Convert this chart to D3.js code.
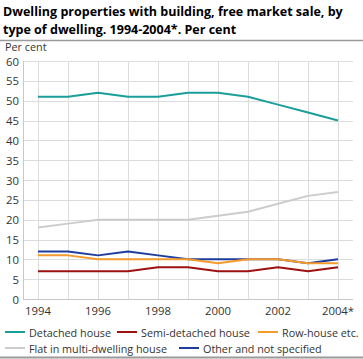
<!DOCTYPE html>
<html><head><meta charset="utf-8">
<script src="https://cdn.jsdelivr.net/npm/d3@7"></script>
<style>
body{margin:0;background:#fff;}
svg{display:block;font-family:"Open Sans",sans-serif;}
</style></head>
<body><svg id="c" width="363" height="359"></svg>
<script>
const years = ["1994","1995","1996","1997","1998","1999","2000","2001","2002","2003","2004"];
const tickLabels = ["1994","1996","1998","2000","2002","2004*"];
const yTicks = [0,5,10,15,20,25,30,35,40,45,50,55,60];
const detached = [51,51,52,51,51,52,52,51,49,47,45];
const semiDetached = [7,7,7,7,8,8,7,7,8,7,8];
const rowHouse = [11,11,10,10,10,10,9,10,10,9,9];
const flat = [18,19,20,20,20,20,21,22,24,26,27];
const other = [12,12,11,12,11,10,10,10,10,9,10];
const seriesNames = ["Detached house","Semi-detached house","Row-house etc.","Flat in multi-dwelling house","Other and not specified"];
const colors = ["#1a9e99","#9e1111","#f59a2c","#cccccc","#1c3d9c"];

const series = [
  {name:seriesNames[0], values:detached, color:colors[0]},
  {name:seriesNames[1], values:semiDetached, color:colors[1]},
  {name:seriesNames[2], values:rowHouse, color:colors[2]},
  {name:seriesNames[3], values:flat, color:colors[3]},
  {name:seriesNames[4], values:other, color:colors[4]}
];
const drawOrder = [3,0,1,4,2];

const svg = d3.select("#c");
const L=23,R=353,T=61,B=299;
const x = d3.scalePoint().domain(years).range([L,R]).padding(0.5);
const y = d3.scaleLinear().domain([0,60]).range([B,T]);

// fit font sizes to measured target widths
function fitSize(text, weight, target){
  const t = svg.append("text").attr("font-size",20).attr("font-weight",weight).text(text);
  const w = t.node().getComputedTextLength();
  t.remove();
  return 20*target/w;
}
const titleSize = fitSize("Dwelling properties with building, free market sale, by","bold",340);
const smallSize = fitSize("Semi-detached house","normal",109);

// title
const title = svg.append("text").attr("font-weight","bold").attr("font-size",titleSize).attr("fill","#000");
title.append("tspan").attr("x",3).attr("y",16).text("Dwelling properties with building, free market sale, by");
title.append("tspan").attr("x",3).attr("y",34).text("type of dwelling. 1994-2004*. Per cent");
svg.append("line").attr("x1",0).attr("x2",363).attr("y1",40.5).attr("y2",40.5).attr("stroke","#9a9a9a").attr("stroke-width",1.5);
svg.append("text").attr("x",5).attr("y",51).attr("font-size",smallSize).attr("fill","#333").text("Per cent");

// grid
const grid = svg.append("g");
grid.selectAll("line.h").data(yTicks).join("line")
  .attr("x1",L).attr("x2",R).attr("y1",d=>Math.round(y(d))+0.5).attr("y2",d=>Math.round(y(d))+0.5)
  .attr("stroke","#dcdcdc").attr("stroke-width",1);
grid.selectAll("line.v").data(years).join("line")
  .attr("x1",d=>Math.round(x(d))+0.5).attr("x2",d=>Math.round(x(d))+0.5).attr("y1",T).attr("y2",B)
  .attr("stroke","#dcdcdc").attr("stroke-width",1);
svg.append("line").attr("x1",L+0.5).attr("x2",L+0.5).attr("y1",T).attr("y2",B).attr("stroke","#c8c8c8");
svg.append("line").attr("x1",L).attr("x2",R).attr("y1",B+0.5).attr("y2",B+0.5).attr("stroke","#c8c8c8");

// y axis labels
svg.append("g").selectAll("text").data(yTicks).join("text")
  .attr("x",19).attr("y",d=>y(d)+4.5).attr("text-anchor","end").attr("font-size",smallSize*1.05).attr("fill","#333").text(d=>d);

// x axis labels
const xlab = years.filter((d,i)=>i%2===0);
svg.append("g").selectAll("text").data(xlab).join("text")
  .attr("x",d=>x(d)).attr("y",315).attr("text-anchor","middle").attr("font-size",smallSize*1.05).attr("fill","#333")
  .text((d,i)=>tickLabels[i]);

// lines
const line = d3.line().x((d,i)=>x(years[i])).y(d=>y(d));
svg.append("g").selectAll("path").data(drawOrder.map(i=>series[i])).join("path")
  .attr("d",d=>line(d.values)).attr("fill","none").attr("stroke",d=>d.color).attr("stroke-width",2).attr("stroke-linejoin","round");

// legend
const legPos = [[5,332],[117,332],[258,332],[5,348],[179,348]];
const leg = svg.append("g").selectAll("g").data(series).join("g")
  .attr("transform",(d,i)=>`translate(${legPos[i][0]},${legPos[i][1]})`);
leg.append("line").attr("x1",0).attr("x2",20).attr("y1",0).attr("y2",0).attr("stroke",d=>d.color).attr("stroke-width",2);
leg.append("text").attr("x",24).attr("y",4.5).attr("font-size",smallSize).attr("fill","#333").text(d=>d.name);

svg.append("line").attr("x1",0).attr("x2",363).attr("y1",357.5).attr("y2",357.5).attr("stroke","#9a9a9a").attr("stroke-width",2);
</script></body></html>
